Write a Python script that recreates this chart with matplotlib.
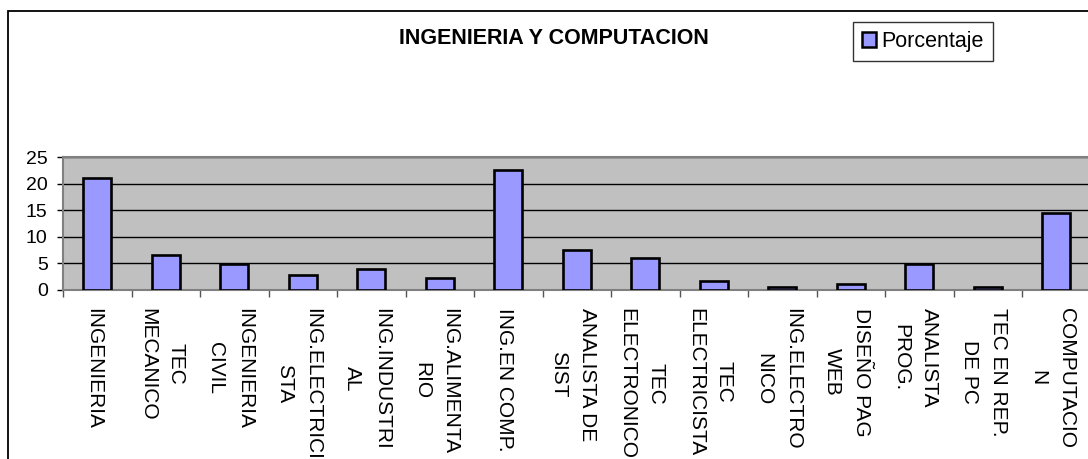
import matplotlib
matplotlib.use("Agg")
import matplotlib.pyplot as plt
from matplotlib.patches import Rectangle, Patch
import numpy as np

plt.rcParams['font.family'] = ['Liberation Sans', 'DejaVu Sans']

categories = ["INGENIERIA", "TEC\nMECANICO", "INGENIERIA\nCIVIL", "ING.ELECTRICI\nSTA",
              "ING.INDUSTRI\nAL", "ING.ALIMENTA\nRIO", "ING.EN COMP.", "ANALISTA DE\nSIST",
              "TEC\nELECTRONICO", "TEC\nELECTRICISTA", "ING.ELECTRO\nNICO", "DISEÑO PAG\nWEB",
              "ANALISTA\nPROG.", "TEC EN REP.\nDE PC", "COMPUTACIO\nN"]
porcentaje = [21.0, 6.5, 4.8, 2.8, 3.9, 2.3, 22.6, 7.6, 6.0, 1.7, 0.6, 1.2, 4.9, 0.6, 14.5]
yticks = [0, 5, 10, 15, 20, 25]
title = "INGENIERIA Y COMPUTACION"
series_name = "Porcentaje"

W, H = 1088, 459
fig = plt.figure(figsize=(W / 100, H / 100), dpi=100)
fig.patch.set_facecolor('white')

# outer chart border (cropped on right/bottom)
fig.add_artist(Rectangle((8 / W, -0.1), 1.2, 1 - 11 / H + 0.1, transform=fig.transFigure,
                         fill=False, edgecolor='black', linewidth=1.3, zorder=0))

left, right, top, bottom = 63, 1090.5, 157, 290
ax = fig.add_axes([left / W, 1 - bottom / H, (right - left) / W, (bottom - top) / H])
ax.set_facecolor('#C0C0C0')

x = np.arange(len(categories))
ax.bar(x, porcentaje, width=0.41, color='#9999FF', edgecolor='black', linewidth=1.9, zorder=3)

ax.set_xlim(-0.5, len(categories) - 0.5)
ax.set_ylim(0, 25)
ax.set_yticks(yticks)
ax.set_yticklabels([str(v) for v in yticks], fontsize=14)
ax.yaxis.grid(True, color='black', linewidth=1.0, zorder=1)
ax.set_axisbelow(True)

ax.set_xticks(np.arange(len(categories) + 1) - 0.5)
ax.set_xticklabels([])
label_offset = -0.06  # labels sit slightly left of bar centers
ax.set_xticks(x + label_offset, minor=True)
ax.set_xticklabels(categories, minor=True, rotation=270, ha='center', va='top',
                   fontsize=15, linespacing=1.65)
ax.tick_params(axis='x', which='major', length=5, width=1, color='#555555')
ax.tick_params(axis='x', which='minor', length=0, pad=13)
ax.tick_params(axis='y', length=4, width=1, color='black', pad=7)

for s in ['top', 'bottom', 'left']:
    ax.spines[s].set_color('#808080')
    ax.spines[s].set_linewidth(1.5)
ax.spines['right'].set_visible(False)

fig.text(554 / W, 1 - 38 / H, title, ha='center', va='center', fontsize=15.5, fontweight='bold')

handle = Patch(facecolor='#9999FF', edgecolor='black', linewidth=1.8)
leg = fig.legend([handle], [series_name], loc='upper left',
                 bbox_to_anchor=(853 / W, 1 - 22 / H), bbox_transform=fig.transFigure,
                 fontsize=15.5, frameon=True, fancybox=False, shadow=False,
                 handlelength=0.65, handleheight=0.65, handletextpad=0.25,
                 borderpad=0.42, borderaxespad=0)
leg.get_frame().set_edgecolor('black')
leg.get_frame().set_linewidth(1.0)

fig.savefig('out.png', dpi=100)
